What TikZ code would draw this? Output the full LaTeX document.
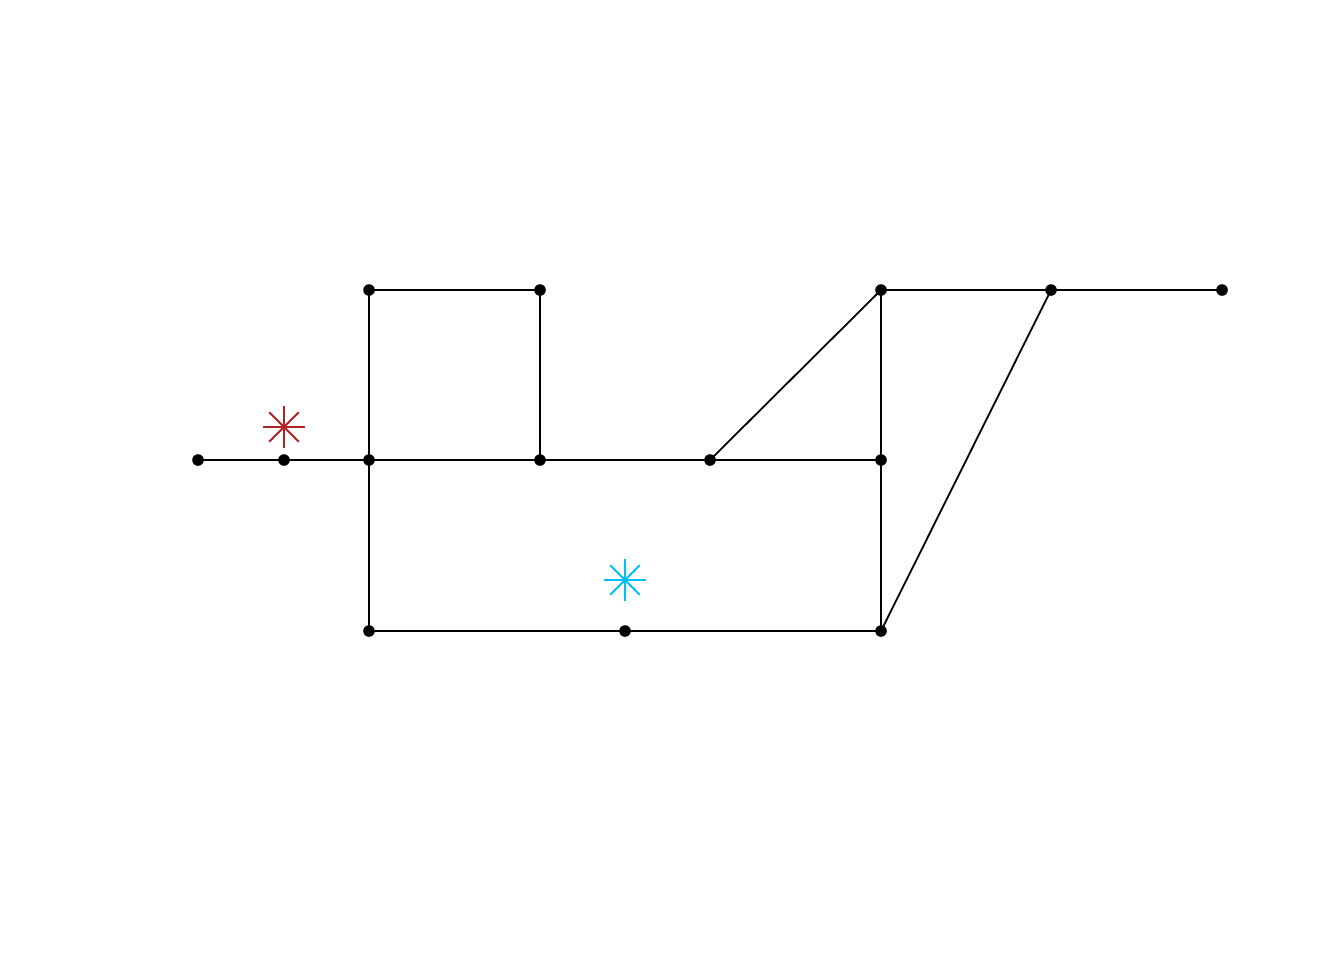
\documentclass[tikz,border=0pt]{standalone}
\usetikzlibrary{calc}
\definecolor{starred}{RGB}{178,34,34}
\definecolor{starblue}{RGB}{0,191,255}
\begin{document}
\begin{tikzpicture}[x=0.5pt,y=-0.5pt,
  pt/.style={circle,fill=black,inner sep=0pt,minimum size=5.8pt},
  edge/.style={line width=0.9pt},
  starline/.style={line width=0.9pt}]
\useasboundingbox (0,0) rectangle (1344,960);
\node[pt] (a) at (198,460) {};
\node[pt] (b) at (284,460) {};
\node[pt] (c) at (369,460) {};
\node[pt] (d) at (540,460) {};
\node[pt] (e) at (710,460) {};
\node[pt] (f) at (881,460) {};
\node[pt] (g) at (369,290) {};
\node[pt] (h) at (540,290) {};
\node[pt] (i) at (881,290) {};
\node[pt] (j) at (1051,290) {};
\node[pt] (k) at (1222,290) {};
\node[pt] (l) at (369,631) {};
\node[pt] (m) at (625,631) {};
\node[pt] (n) at (881,631) {};
\draw[edge] (a.center) -- (b.center) -- (c.center) -- (d.center) -- (e.center) -- (f.center);
\draw[edge] (g.center) -- (h.center);
\draw[edge] (g.center) -- (c.center);
\draw[edge] (h.center) -- (d.center);
\draw[edge] (c.center) -- (l.center);
\draw[edge] (l.center) -- (m.center) -- (n.center);
\draw[edge] (e.center) -- (i.center);
\draw[edge] (i.center) -- (f.center);
\draw[edge] (f.center) -- (n.center);
\draw[edge] (i.center) -- (j.center) -- (k.center);
\draw[edge] (j.center) -- (n.center);
\coordinate (rs) at (284,427);
\coordinate (bs) at (625,580);
\foreach \c/\col in {rs/starred,bs/starblue}{
  \foreach \ang in {0,45,90,135}{
    \draw[starline,\col] ($(\c)+(\ang:21)$) -- ($(\c)+(\ang+180:21)$);
  }
}
\end{tikzpicture}
\end{document}
